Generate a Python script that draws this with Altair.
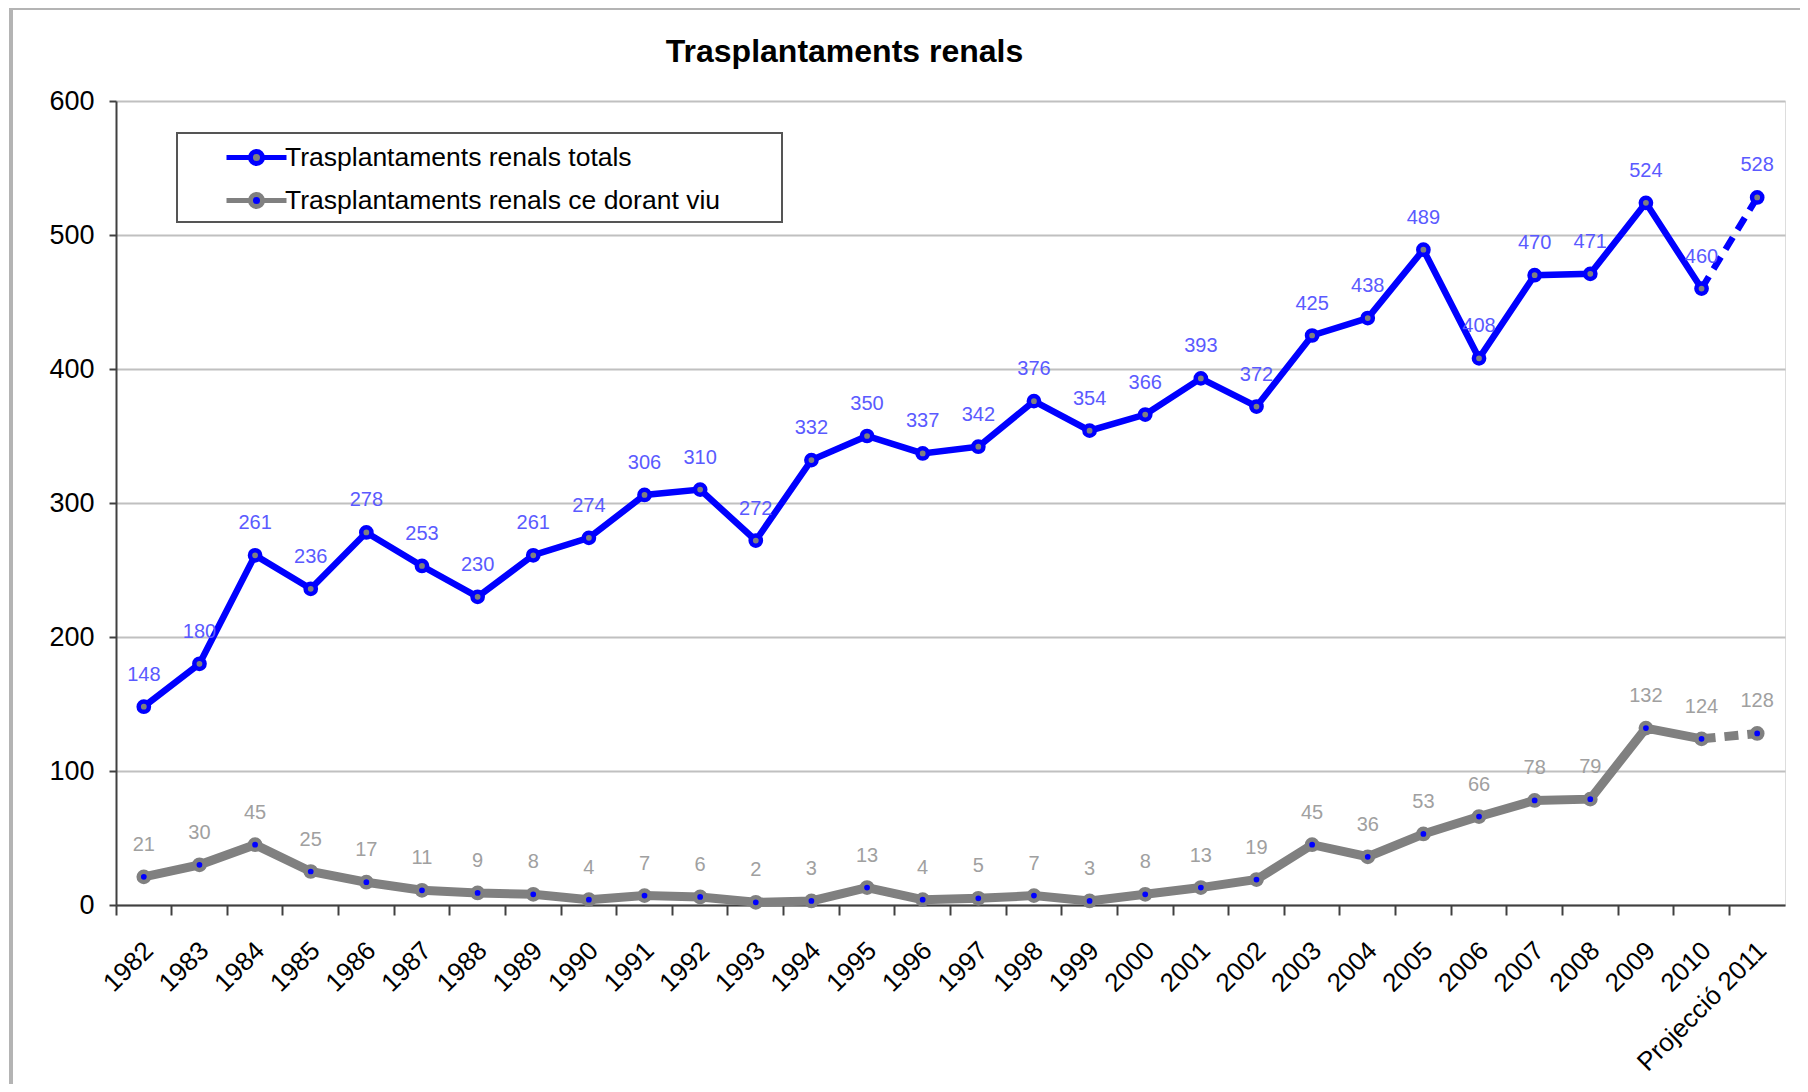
import altair as alt
import pandas as pd

years = ["1982", "1983", "1984", "1985", "1986", "1987", "1988", "1989", "1990",
         "1991", "1992", "1993", "1994", "1995", "1996", "1997", "1998", "1999",
         "2000", "2001", "2002", "2003", "2004", "2005", "2006", "2007", "2008",
         "2009", "2010", "Projecció 2011"]
totals = [148, 180, 261, 236, 278, 253, 230, 261, 274, 306, 310, 272, 332, 350, 337,
          342, 376, 354, 366, 393, 372, 425, 438, 489, 408, 470, 471, 524, 460, 528]
donor = [21, 30, 45, 25, 17, 11, 9, 8, 4, 7, 6, 2, 3, 13, 4,
         5, 7, 3, 8, 13, 19, 45, 36, 53, 66, 78, 79, 132, 124, 128]
series_names = ["Trasplantaments renals totals", "Trasplantaments renals ce dorant viu"]
y_ticks = [0, 100, 200, 300, 400, 500, 600]

rows = []
for i, yr in enumerate(years):
    rows.append({"year": yr, "idx": i, "series": series_names[0], "value": totals[i]})
    rows.append({"year": yr, "idx": i, "series": series_names[1], "value": donor[i]})
df = pd.DataFrame(rows)
last_real = len(years) - 2  # index of 2010

FONT = "Liberation Sans"
W, H = 1669, 804

x_enc = alt.X(
    "year:N", sort=years,
    scale=alt.Scale(type="band", paddingInner=0, paddingOuter=0),
    axis=alt.Axis(title=None, grid=False, domainColor="#404040", domainWidth=2,
                  tickColor="#404040", tickWidth=2, tickSize=10, bandPosition=0,
                  labelOffset=-4, labelAngle=-45, labelAlign="right", labelBaseline="top",
                  labelPadding=22, labelFont=FONT, labelFontSize=26, labelColor="#000000"),
)
y_enc = alt.Y(
    "value:Q", scale=alt.Scale(domain=[0, 600]),
    axis=alt.Axis(title=None, values=y_ticks, grid=True, gridColor="#c0c0c0", gridWidth=2,
                  domainColor="#404040", domainWidth=2, tickColor="#404040", tickWidth=2,
                  tickSize=7, labelPadding=15, labelFont=FONT, labelFontSize=27,
                  labelColor="#000000"),
)

one = pd.DataFrame({"k": [0]})
frame_left = alt.Chart(one).mark_rule(color="#b4b4b4", strokeWidth=4).encode(
    x=alt.value(-105), y=alt.value(-93), y2=alt.value(995))
frame_top = alt.Chart(one).mark_rule(color="#b4b4b4", strokeWidth=4).encode(
    y=alt.value(-93), x=alt.value(-105), x2=alt.value(1700))
legend_box = alt.Chart(one).mark_rect(fill="white", stroke="#555555", strokeWidth=2).encode(
    x=alt.value(61), x2=alt.value(666), y=alt.value(32), y2=alt.value(121))


def line(series, color, width, dashed):
    cond = (alt.datum.series == series) & (
        (alt.datum.idx >= last_real) if dashed else (alt.datum.idx <= last_real))
    props = dict(color=color, strokeWidth=width)
    if dashed:
        props["strokeDash"] = [14, 9]
    return alt.Chart(df).transform_filter(cond).mark_line(**props).encode(
        x=x_enc, y=y_enc, order="idx:Q")


sym_path = ("M-1.5,0L-0.3,0M0.3,0L1.5,0M-0.3,0A0.3,0.3,0,1,0,0.3,0"
            "A0.3,0.3,0,1,0,-0.3,0")
leg = alt.Legend(title=None, orient="none", legendX=118, legendY=34, padding=0,
                 symbolType=sym_path, symbolSize=1600, symbolStrokeWidth=5,
                 labelFont=FONT, labelFontSize=26.5, labelColor="#000000",
                 labelOffset=6, rowPadding=4, labelLimit=0)

points = alt.Chart(df).mark_point(filled=True, size=105, strokeWidth=4.5, opacity=1).encode(
    x=x_enc, y=y_enc,
    fill=alt.Fill("series:N", scale=alt.Scale(domain=series_names, range=["#808080", "#0000ff"]),
                  legend=leg),
    stroke=alt.Stroke("series:N", scale=alt.Scale(domain=series_names, range=["#0000ff", "#808080"]),
                      legend=leg),
)


def labels(series, color):
    return alt.Chart(df).transform_filter(alt.datum.series == series).mark_text(
        dy=-32, font=FONT, fontSize=20, color=color).encode(x=x_enc, y=y_enc, text="value:Q")


chart = alt.layer(
    frame_left, frame_top, legend_box,
    line(series_names[1], "#808080", 9, False),
    line(series_names[1], "#808080", 9, True),
    line(series_names[0], "#0000ff", 6.5, False),
    line(series_names[0], "#0000ff", 6.5, True),
    points,
    labels(series_names[0], "#5a5aff"),
    labels(series_names[1], "#a0a0a0"),
).properties(
    width=W, height=H,
    title=alt.TitleParams("Trasplantaments renals", font=FONT, fontSize=32, fontWeight="bold",
                          color="#000000", anchor="middle", frame="group", dx=-106,
                          baseline="bottom", offset=-95),
    autosize=alt.AutoSizeParams(type="none"),
    padding={"left": 108, "top": 93, "right": 15, "bottom": 179},
).configure_view(stroke="#999999", strokeWidth=2).configure(background="white")

chart.save("out.html", embed_options={"renderer": "svg", "actions": False})
